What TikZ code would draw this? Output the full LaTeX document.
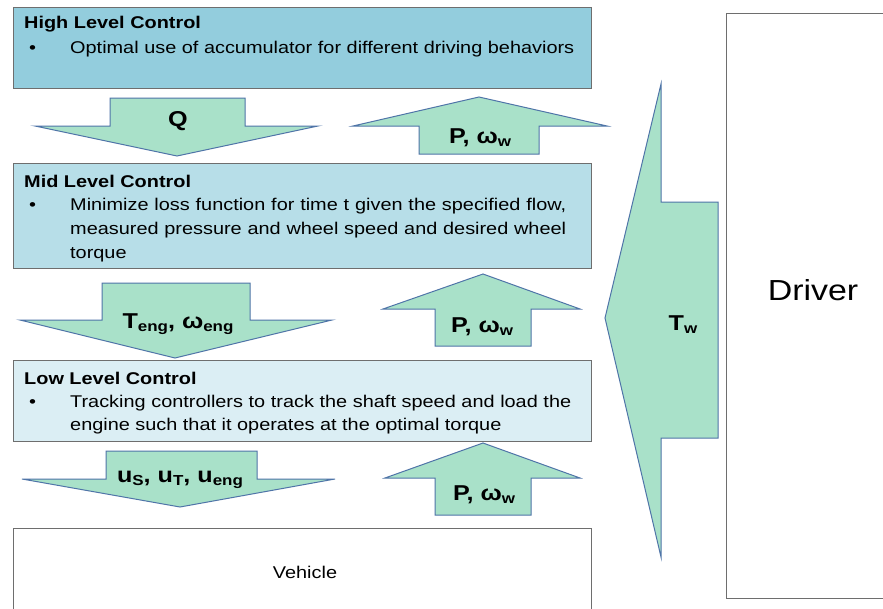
\documentclass[tikz,border=0pt]{standalone}
\usepackage{fontspec}
\setmainfont{Liberation Sans}[FakeStretch=1.17]
\definecolor{hi}{HTML}{93CDDD}
\definecolor{mid}{HTML}{B7DEE8}
\definecolor{low}{HTML}{DBEEF4}
\definecolor{arf}{HTML}{A9E1C9}
\definecolor{ars}{HTML}{4F74A8}
\definecolor{bxs}{HTML}{6E6E6E}
\newcommand\sbs[1]{\raisebox{-3.5pt}{\fontsize{14.5}{15}\selectfont #1}}
\begin{document}
\begin{tikzpicture}[x=1pt,y=-1pt,
  box/.style={draw=bxs, line width=1.1pt, inner sep=0pt, anchor=north west},
  blk/.style={fill=arf, draw=ars, line width=1pt, line join=miter},
  ttl/.style={anchor=base west, inner sep=0pt, font=\bfseries\fontsize{17}{20}\selectfont},
  txt/.style={anchor=base west, inner sep=0pt, font=\fontsize{17}{20}\selectfont},
  lbl/.style={anchor=base, inner sep=0pt, font=\bfseries\fontsize{21.5}{24}\selectfont}]
\useasboundingbox (0,0) rectangle (883,608);
\fill[white] (0,0) rectangle (883,608);
% boxes
\node[box, fill=hi, minimum width=578pt, minimum height=81pt] (high) at (13,7) {};
\node[box, fill=mid, minimum width=578pt, minimum height=105pt] (midb) at (13,163) {};
\node[box, fill=low, minimum width=578pt, minimum height=81pt] (lowb) at (13,360) {};
\node[box, fill=white, minimum width=578pt, minimum height=90pt] (veh) at (13,528) {};
\node[box, fill=white, minimum width=170pt, minimum height=585pt] (drv) at (726,13) {};
% texts
\node[ttl] (t1) at (24,28) {High Level Control};
\node[txt] (b1) at (29,53) {•};
\node[txt] (l1) at (70,53) {\makebox[504pt][s]{Optimal use of accumulator for different driving behaviors}};
\node[ttl] (t2) at (24,187) {Mid Level Control};
\node[txt] (b2) at (29,210) {•};
\node[txt] (l2a) at (70,210) {\makebox[496pt][s]{Minimize loss function for time t given the specified flow,}};
\node[txt] (l2b) at (70,234) {\makebox[496pt][s]{measured pressure and wheel speed and desired wheel}};
\node[txt] (l2c) at (70,258) {torque};
\node[ttl] (t3) at (24,384) {Low Level Control};
\node[txt] (b3) at (29,407) {•};
\node[txt] (l3a) at (70,407) {\makebox[501pt][s]{Tracking controllers to track the shaft speed and load the}};
\node[txt] (l3b) at (70,430) {engine such that it operates at the optimal torque};
\node[inner sep=0pt, font=\fontsize{17}{19}\selectfont] (vt) at (305,572) {Vehicle};
\node[inner sep=0pt, font=\fontsize{29}{32}\selectfont] (dt) at (813,290) {Driver};
% block arrows
\draw[blk] (110,98) -- (245,98) -- (245,126) -- (318,126) -- (177,156) -- (35,126) -- (110,126) -- cycle;
\draw[blk] (479,97) -- (607,126) -- (539,126) -- (539,154) -- (419,154) -- (419,126) -- (353,126) -- cycle;
\draw[blk] (102,283) -- (250,283) -- (250,320) -- (332,320) -- (175,358) -- (20,320) -- (102,320) -- cycle;
\draw[blk] (483,274) -- (580,309) -- (531,309) -- (531,346) -- (435,346) -- (435,309) -- (383,309) -- cycle;
\draw[blk] (106,451) -- (257,451) -- (257,479) -- (335,479) -- (180,507) -- (22,479) -- (106,479) -- cycle;
\draw[blk] (483,443) -- (580,478) -- (531,478) -- (531,515) -- (435,515) -- (435,478) -- (385,478) -- cycle;
\draw[blk] (605,318) -- (661,84) -- (661,202) -- (718,202) -- (718,438) -- (661,438) -- (661,557) -- cycle;
% labels
\node[lbl] (q) at (178,126) {Q};
\node[lbl] (p1) at (480,143) {P, ω\sbs{w}};
\node[lbl] (te) at (178,328) {T\sbs{eng}, ω\sbs{eng}};
\node[lbl] (p2) at (482,332) {P, ω\sbs{w}};
\node[lbl] (u) at (180,482) {u\sbs{S}, u\sbs{T}, u\sbs{eng}};
\node[lbl] (p3) at (484,500) {P, ω\sbs{w}};
\node[lbl] (tw) at (683,330) {T\sbs{w}};
\end{tikzpicture}
\end{document}
